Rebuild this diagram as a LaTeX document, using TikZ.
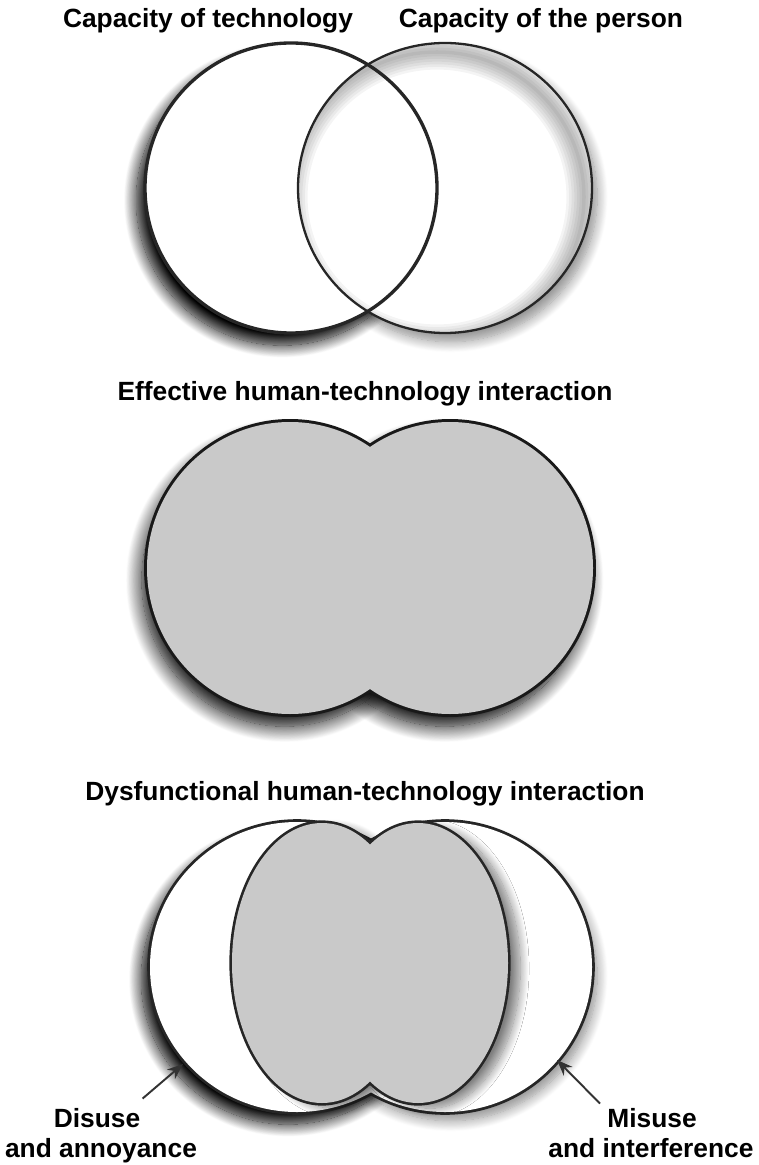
\documentclass[tikz,border=0pt]{standalone}
\usepackage{fontspec}
\setmainfont{Liberation Sans}
\usepackage{tikz}
\usetikzlibrary{arrows.meta,shadows.blur}
\definecolor{lobegray}{RGB}{201,201,201}

\begin{document}
\begin{tikzpicture}[x=0.02cm,y=-0.02cm,
    label/.style={font=\fontsize{15}{18}\selectfont\bfseries, inner sep=0pt, anchor=base},
    darkshade/.style={blur shadow={shadow xshift=-5pt, shadow yshift=-7pt, shadow blur radius=7pt, shadow blur steps=20, shadow opacity=100}},
    midshade/.style={blur shadow={shadow xshift=-3pt, shadow yshift=-7pt, shadow blur radius=9pt, shadow blur steps=20, shadow opacity=100}},
    lightshade/.style={blur shadow={shadow xshift=3pt, shadow yshift=-5pt, shadow blur radius=6pt, shadow blur steps=14, shadow opacity=45}},
    lobeshade/.style={blur shadow={shadow xshift=7pt, shadow yshift=-3pt, shadow blur radius=5pt, shadow blur steps=14, shadow opacity=50}},
    pointer/.style={-{Stealth[length=9pt,width=7pt]}, line width=1.1pt, draw=black!80}]
    \useasboundingbox (0,0) rectangle (758,1165);

    % top: the two capacities
    \node[label] (techtitle) at (208,28) {Capacity of technology};
    \node[label] (persontitle) at (541,28) {Capacity of the person};

    \path[darkshade, fill=white] (291,188) ellipse [x radius=146, y radius=145];
    \path[lightshade, fill=white] (445,188) ellipse [x radius=147, y radius=145];
    \fill[white] (291,188) ellipse [x radius=146, y radius=145];
    % inner shading of the person circle
    \begin{scope}
        \clip (445,188) ellipse [x radius=147, y radius=145];
        \foreach \w in {2,5,...,20}
            \draw[black, opacity=0.045, line width=\w pt] (437,197) ellipse [x radius=147, y radius=145];
    \end{scope}
    \draw[line width=1.9pt, black!85] (291,188) ellipse [x radius=146, y radius=145];
    \draw[line width=1.3pt, black!85] (445,188) ellipse [x radius=147, y radius=145];

    % middle: effective interaction
    \node[label] (efftitle) at (365,400) {Effective human-technology interaction};

    \foreach \cx in {290,450}
        \path[midshade, fill=lobegray] (\cx,568) ellipse [x radius=143, y radius=146];
    \foreach \cx in {290,450}
        \draw[line width=3.4pt, black!90] (\cx,568) ellipse [x radius=143, y radius=146];
    \foreach \cx in {290,450}
        \fill[lobegray] (\cx,568) ellipse [x radius=143, y radius=146];

    % bottom: dysfunctional interaction
    \node[label] (dystitle) at (365,800) {Dysfunctional human-technology interaction};

    \path[darkshade, fill=white] (297,967) ellipse [x radius=147, y radius=145];
    \path[lightshade, fill=white] (445,967) ellipse [x radius=147, y radius=145];
    \foreach \cx in {297,445}
        \draw[line width=3.2pt, black!85] (\cx,967) ellipse [x radius=147, y radius=145];
    \foreach \cx in {297,445}
        \fill[white] (\cx,967) ellipse [x radius=147, y radius=145];

    \foreach \cx in {322,418}
        \path[lobeshade, fill=lobegray] (\cx,963) ellipse [x radius=90, y radius=140];
    \foreach \cx in {322,418}
        \draw[line width=3pt, black!85] (\cx,963) ellipse [x radius=90, y radius=140];
    \foreach \cx in {322,418}
        \fill[lobegray] (\cx,963) ellipse [x radius=90, y radius=140];

    % labels and pointers
    \node[label] (disuse) at (97,1127) {Disuse};
    \node[label] (annoy) at (101,1157) {and annoyance};
    \node[label] (misuse) at (652,1127) {Misuse};
    \node[label] (interf) at (651,1157) {and interference};

    \coordinate (disusetip) at (183,1064);
    \coordinate (misusetip) at (557,1060);
    \draw[pointer] ([shift={(2,-9)}]disuse.north east) -- (disusetip);
    \draw[pointer] ([shift={(-7,-4)}]misuse.north west) -- (misusetip);
\end{tikzpicture}
\end{document}
